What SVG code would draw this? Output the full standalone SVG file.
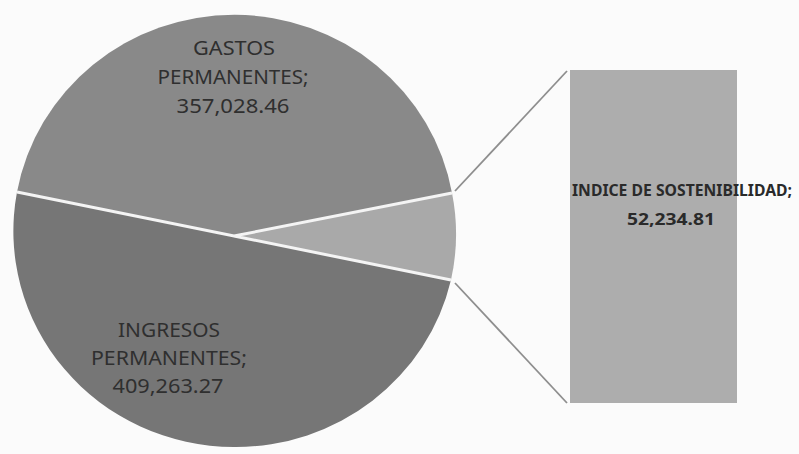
<svg xmlns="http://www.w3.org/2000/svg" width="799" height="454" viewBox="0 0 799 454">
  <style>
    .lbl { font-family: "Noto Sans", "Liberation Sans", sans-serif; font-size: 19px; fill: #2f2f2f; }
    .blbl { font-family: "Noto Sans", "Liberation Sans", sans-serif; font-size: 16px; font-weight: bold; fill: #2a2a2a; }
    .sep { stroke: #f4f4f4; stroke-width: 3; fill: none; }
    .conn { stroke: #8e8e8e; stroke-width: 1.8; fill: none; }
  </style>
  <rect x="0" y="0" width="799" height="454" fill="#fbfbfb"/>
  <g id="slice-ingresos">
    <path d="M234 236 L451 280 A221 216 0 0 1 234 447 A221 216 0 0 1 17 192 Z" fill="#767676"/>
  </g>
  <g id="slice-gastos">
    <path d="M234 236 L17 192 A221 216 0 0 1 452 193 Z" fill="#898989"/>
  </g>
  <g id="slice-indice">
    <path d="M234 236 L452 193 A221 216 0 0 1 451 280 Z" fill="#a9a9a9"/>
  </g>
  <g id="separators">
    <path class="sep" d="M17 192 L234 236 L452 193 M234 236 L451 280"/>
  </g>
  <g id="connectors">
    <line class="conn" x1="455" y1="191" x2="567" y2="71"/>
    <line class="conn" x1="455" y1="283" x2="567" y2="403"/>
  </g>
  <g id="bar-indice">
    <rect x="570" y="70" width="167" height="333" fill="#adadad"/>
  </g>
  <g id="label-gastos">
    <text class="lbl" x="234" y="55" text-anchor="middle" textLength="82" lengthAdjust="spacingAndGlyphs">GASTOS</text>
    <text class="lbl" x="233" y="84" text-anchor="middle" textLength="151" lengthAdjust="spacingAndGlyphs">PERMANENTES;</text>
    <text class="lbl" x="233" y="113" text-anchor="middle" textLength="113" lengthAdjust="spacingAndGlyphs">357,028.46</text>
  </g>
  <g id="label-ingresos">
    <text class="lbl" x="169" y="337" text-anchor="middle" textLength="102" lengthAdjust="spacingAndGlyphs">INGRESOS</text>
    <text class="lbl" x="169" y="365" text-anchor="middle" textLength="156" lengthAdjust="spacingAndGlyphs">PERMANENTES;</text>
    <text class="lbl" x="168" y="393" text-anchor="middle" textLength="111" lengthAdjust="spacingAndGlyphs">409,263.27</text>
  </g>
  <g id="label-indice">
    <text class="blbl" x="682" y="196" text-anchor="middle" textLength="220" lengthAdjust="spacingAndGlyphs">INDICE DE SOSTENIBILIDAD;</text>
    <text class="blbl" x="671" y="225" text-anchor="middle" textLength="88" lengthAdjust="spacingAndGlyphs">52,234.81</text>
  </g>
</svg>
